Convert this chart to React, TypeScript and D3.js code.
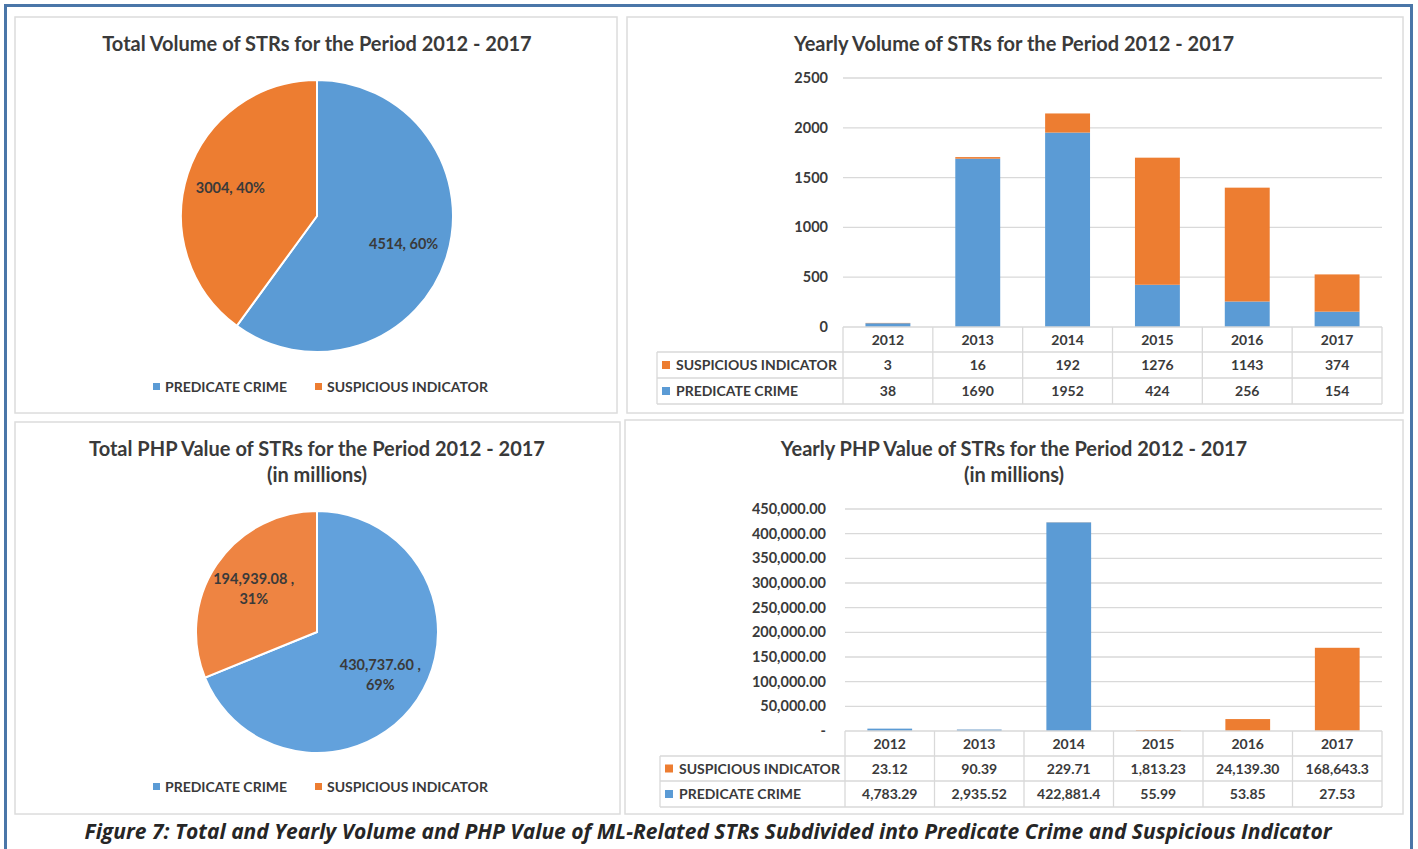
import React from "react";
import * as d3 from "d3";

const years = ["2012", "2013", "2014", "2015", "2016", "2017"];
const seriesNames = ["PREDICATE CRIME", "SUSPICIOUS INDICATOR"];
const volPredicate = [38, 1690, 1952, 424, 256, 154];
const volSuspicious = [3, 16, 192, 1276, 1143, 374];
const volTicks = [0, 500, 1000, 1500, 2000, 2500];
const valPredicate = [4783.29, 2935.52, 422881.4, 55.99, 53.85, 27.53];
const valSuspicious = [23.12, 90.39, 229.71, 1813.23, 24139.3, 168643.3];
const valPredicateLabels = ["4,783.29", "2,935.52", "422,881.4", "55.99", "53.85", "27.53"];
const valSuspiciousLabels = ["23.12", "90.39", "229.71", "1,813.23", "24,139.30", "168,643.3"];
const valTicks = [0, 50000, 100000, 150000, 200000, 250000, 300000, 350000, 400000, 450000];
const totalVolume = [4514, 3004];
const totalVolumeLabels = ["4514, 60%", "3004, 40%"];
const totalValue = [430737.6, 194939.08];
const totalValueLabels = [["430,737.60 ,", "69%"], ["194,939.08 ,", "31%"]];

const BLUE = "#5b9bd5";
const ORANGE = "#ed7d31";
const TXT = "#3a3a3a";
const GRID = "#d9d9d9";
const FONT = "Lato, 'Open Sans', sans-serif";

function Panel({ x, y, w, h }: { x: number; y: number; w: number; h: number }) {
  return <rect x={x} y={y} width={w} height={h} fill="#fff" stroke="#dcdcdc" strokeWidth={1.5} />;
}

function Pie({ cx, cy, r, values, labels, gradient, legendY, legendX }: any) {
  const arcs = d3.pie<number>().sort(null)(values);
  const arc = d3.arc<any>().innerRadius(0).outerRadius(r);
  const fills = gradient ? ["url(#gBlue)", "url(#gOrange)"] : [BLUE, ORANGE];
  const lr = r * (gradient ? 0.63 : 0.67);
  const labelArc = d3.arc<any>().innerRadius(lr).outerRadius(lr);
  return (
    <g>
      {arcs.map((a, i) => (
        <path key={i} d={arc(a) as string} transform={`translate(${cx},${cy})`} fill={fills[i]} stroke="#fff" strokeWidth={2} />
      ))}
      {arcs.map((a, i) => {
        const [lx, ly] = labelArc.centroid(a);
        const lab = labels[i];
        if (Array.isArray(lab)) {
          return (
            <text key={i} x={cx + lx} y={cy + ly} textAnchor="middle" fontSize={14.5} fontWeight="bold" fill={TXT} fontFamily={FONT}>
              <tspan x={cx + lx} dy={-5}>{lab[0]}</tspan>
              <tspan x={cx + lx} dy={20}>{lab[1]}</tspan>
            </text>
          );
        }
        return (
          <text key={i} x={cx + lx} y={cy + ly + 5} textAnchor="middle" fontSize={14.5} fontWeight="bold" fill={TXT} fontFamily={FONT}>
            {lab}
          </text>
        );
      })}
      {seriesNames.map((n, i) => (
        <g key={n}>
          <rect x={legendX[i]} y={legendY - 4} width={7} height={7} fill={i === 0 ? BLUE : ORANGE} />
          <text x={legendX[i] + 12} y={legendY + 5} fontSize={14} fontWeight="bold" fill={TXT} fontFamily={FONT}>{n}</text>
        </g>
      ))}
    </g>
  );
}

function StackedChart({ x0, x1, y0, yTop, maxV, ticks, tickFmt, pred, susp, predLabels, suspLabels, labelRight, tableLeft, rowH }: any) {
  const xs = d3.scaleBand<string>().domain(years).range([x0, x1]).padding(0);
  const ys = d3.scaleLinear().domain([0, maxV]).range([y0, yTop]);
  const bw = xs.bandwidth() * 0.5;
  const rows = [y0, y0 + rowH[0], y0 + rowH[0] + rowH[1], y0 + rowH[0] + rowH[1] + rowH[2]];
  return (
    <g fontFamily={FONT}>
      {ticks.map((t: number) => (
        <g key={t}>
          {t > 0 && <line x1={x0} x2={x1} y1={ys(t)} y2={ys(t)} stroke={GRID} strokeWidth={1.3} />}
          <text x={labelRight} y={ys(t) + 5} textAnchor="end" fontSize={14.5} fontWeight="bold" fill={TXT}>{tickFmt(t)}</text>
        </g>
      ))}
      {years.map((yr, i) => {
        const bx = (xs(yr) as number) + (xs.bandwidth() - bw) / 2;
        const p = pred[i];
        const s = susp[i];
        return (
          <g key={yr}>
            <rect x={bx} y={ys(p)} width={bw} height={y0 - ys(p)} fill={BLUE} />
            <rect x={bx} y={ys(p + s)} width={bw} height={ys(p) - ys(p + s)} fill={ORANGE} />
          </g>
        );
      })}
      <g stroke={GRID} strokeWidth={1.3}>
        <line x1={x0} x2={x1} y1={rows[0]} y2={rows[0]} />
        <line x1={tableLeft} x2={x1} y1={rows[1]} y2={rows[1]} />
        <line x1={tableLeft} x2={x1} y1={rows[2]} y2={rows[2]} />
        <line x1={tableLeft} x2={x1} y1={rows[3]} y2={rows[3]} />
        <line x1={tableLeft} x2={tableLeft} y1={rows[1]} y2={rows[3]} />
        {years.map((yr) => (
          <line key={yr} x1={xs(yr)} x2={xs(yr)} y1={rows[0]} y2={rows[3]} />
        ))}
        <line x1={x1} x2={x1} y1={rows[0]} y2={rows[3]} />
      </g>
      {years.map((yr, i) => {
        const cx = (xs(yr) as number) + xs.bandwidth() / 2;
        return (
          <g key={yr} textAnchor="middle" fontSize={14} fontWeight="bold" fill={TXT}>
            <text x={cx} y={(rows[0] + rows[1]) / 2 + 5}>{yr}</text>
            <text x={cx} y={(rows[1] + rows[2]) / 2 + 5}>{suspLabels[i]}</text>
            <text x={cx} y={(rows[2] + rows[3]) / 2 + 5}>{predLabels[i]}</text>
          </g>
        );
      })}
      {[1, 0].map((si, k) => (
        <g key={si}>
          <rect x={tableLeft + 5} y={(rows[k + 1] + rows[k + 2]) / 2 - 4} width={8} height={8} fill={si === 0 ? BLUE : ORANGE} />
          <text x={tableLeft + 19} y={(rows[k + 1] + rows[k + 2]) / 2 + 5} fontSize={14} fontWeight="bold" fill={TXT}>{seriesNames[si]}</text>
        </g>
      ))}
    </g>
  );
}

export default function App() {
  const volFmt = (t: number) => String(t);
  const valFmt = (t: number) => (t === 0 ? "-" : d3.format(",.2f")(t));
  return (
    <svg width={1418} height={849} style={{ position: "absolute", left: 0, top: 0 }} fontFamily={FONT}>
      <defs>
        <linearGradient id="gBlue" gradientUnits="userSpaceOnUse" x1={0} y1={511} x2={0} y2={753}>
          <stop offset="0" stopColor="#62a1dc" />
          <stop offset="1" stopColor="#3a82c5" />
        </linearGradient>
        <linearGradient id="gOrange" gradientUnits="userSpaceOnUse" x1={0} y1={511} x2={0} y2={753}>
          <stop offset="0" stopColor="#ee8442" />
          <stop offset="1" stopColor="#de630c" />
        </linearGradient>
      </defs>
      <rect x={0} y={0} width={1418} height={849} fill="#fff" />
      <rect x={5.5} y={5.5} width={1406} height={860} fill="none" stroke="#4a76a8" strokeWidth={3} />
      <Panel x={15} y={17} w={602} h={396} />
      <Panel x={627} y={17} w={776} h={396} />
      <Panel x={15} y={422} w={605} h={392} />
      <Panel x={625} y={420} w={778} h={394} />

      <text x={317} y={51} textAnchor="middle" fontSize={20} fontWeight="bold" fill={TXT}>Total Volume of STRs for the Period 2012 - 2017</text>
      <Pie cx={317} cy={216} r={136} values={totalVolume} labels={totalVolumeLabels} gradient={false} legendY={387} legendX={[153, 315]} />

      <text x={1014} y={51} textAnchor="middle" fontSize={20} fontWeight="bold" fill={TXT}>Yearly Volume of STRs for the Period 2012 - 2017</text>
      <StackedChart x0={843} x1={1382} y0={327} yTop={78} maxV={2500} ticks={volTicks} tickFmt={volFmt}
        pred={volPredicate} susp={volSuspicious} predLabels={volPredicate.map(String)} suspLabels={volSuspicious.map(String)}
        labelRight={828} tableLeft={657} rowH={[25, 26, 26]} />

      <text x={317} y={456} textAnchor="middle" fontSize={20} fontWeight="bold" fill={TXT}>Total PHP Value of STRs for the Period 2012 - 2017</text>
      <text x={317} y={482} textAnchor="middle" fontSize={20} fontWeight="bold" fill={TXT}>(in millions)</text>
      <Pie cx={317} cy={632} r={121} values={totalValue} labels={totalValueLabels} gradient={true} legendY={787} legendX={[153, 315]} />

      <text x={1014} y={456} textAnchor="middle" fontSize={20} fontWeight="bold" fill={TXT}>Yearly PHP Value of STRs for the Period 2012 - 2017</text>
      <text x={1014} y={482} textAnchor="middle" fontSize={20} fontWeight="bold" fill={TXT}>(in millions)</text>
      <StackedChart x0={845} x1={1382} y0={731} yTop={509} maxV={450000} ticks={valTicks} tickFmt={valFmt}
        pred={valPredicate} susp={valSuspicious} predLabels={valPredicateLabels} suspLabels={valSuspiciousLabels}
        labelRight={826} tableLeft={660} rowH={[25, 25, 26]} />

      <text x={708} y={839} textAnchor="middle" fontSize={21} fontWeight="bold" fontStyle="italic" fill="#262626" fontFamily="'Open Sans', sans-serif">
        Figure 7: Total and Yearly Volume and PHP Value of ML-Related STRs Subdivided into Predicate Crime and Suspicious Indicator
      </text>
    </svg>
  );
}
